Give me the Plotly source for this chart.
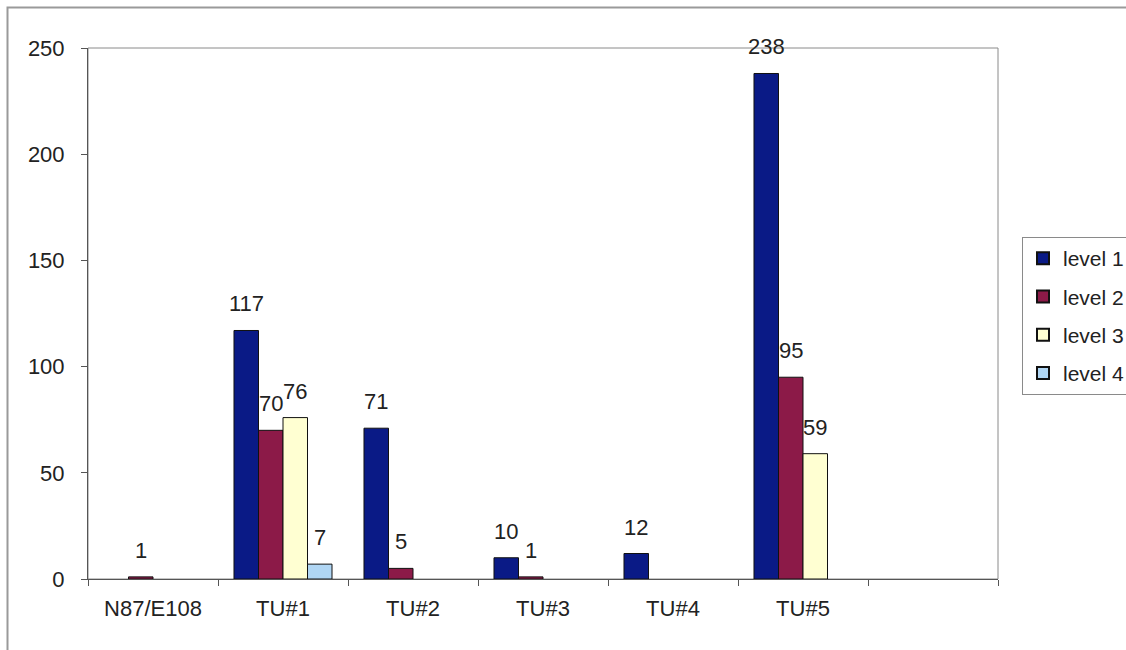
import plotly.graph_objects as go

categories = ["N87/E108", "TU#1", "TU#2", "TU#3", "TU#4", "TU#5", "\u00a0"]
level1 = [None, 117, 71, 10, 12, 238, None]
level2 = [1, 70, 5, 1, None, 95, None]
level3 = [None, 76, None, None, None, 59, None]
level4 = [None, 7, None, None, None, None, None]
series_names = ["level 1", "level 2", "level 3", "level 4"]
series_values = [level1, level2, level3, level4]
colors = ["#0A1A86", "#8C1A48", "#FFFFD2", "#B0D6F4"]
y_ticks = [0, 50, 100, 150, 200, 250]

FONT = "Liberation Sans, Arial, sans-serif"
FS = 22

# plot-area geometry (px)
L, R, T, B = 88, 998, 48, 579
W, H = 1126, 650
pw, ph = R - L, B - T
BARGAP = 0.246
n_cat = len(categories)
cat_px = pw / n_cat
bar_px = cat_px * (1 - BARGAP) / len(series_names)

def px_x(p):
    return (p - L) / pw

def px_y(p):
    return (B - p) / ph

fig = go.Figure()
annotations = []
for i, (name, vals, col) in enumerate(zip(series_names, series_values, colors)):
    fig.add_trace(go.Bar(
        x=categories, y=vals, name=name,
        marker=dict(color=col, line=dict(color="#111111", width=1)),
        legendgroup=name,
    ))
    shift = (i - (len(series_names) - 1) / 2) * bar_px
    for c, v in zip(categories, vals):
        if v is None:
            continue
        annotations.append(dict(
            x=c, y=v, xref="x", yref="y", text=str(v), showarrow=False,
            xanchor="center", yanchor="bottom", xshift=shift, yshift=12,
            font=dict(family=FONT, size=FS, color="#222222"),
        ))

fig.update_layout(
    width=W, height=H,
    margin=dict(l=L, r=W - R, t=T, b=H - B, autoexpand=False),
    paper_bgcolor="white", plot_bgcolor="white",
    barmode="group", bargap=BARGAP, bargroupgap=0,
    font=dict(family=FONT, size=FS, color="#222222"),
    showlegend=True,
    legend=dict(
        x=px_x(1022), y=px_y(237), xanchor="left", yanchor="top",
        bordercolor="#8a8a8a", borderwidth=1, bgcolor="white",
        font=dict(family=FONT, size=21, color="#222222"),
        traceorder="grouped", tracegroupgap=8,
        itemsizing="constant",
    ),
    xaxis=dict(
        type="category", categoryorder="array", categoryarray=categories,
        tickson="boundaries", ticks="outside", ticklen=6, tickcolor="#555555",
        showline=True, linecolor="#555555", linewidth=1,
        showgrid=False, zeroline=False,
        tickfont=dict(family=FONT, size=FS, color="#222222"),
        ticklabelstandoff=10,
        range=[-0.5, 6.5],
    ),
    yaxis=dict(
        range=[0, 250], tickvals=y_ticks, ticktext=[str(v) for v in y_ticks],
        ticks="outside", ticklen=6, tickcolor="#555555",
        showline=True, linecolor="#555555", linewidth=1,
        showgrid=False, zeroline=False,
        tickfont=dict(family=FONT, size=FS, color="#222222"),
        ticklabelstandoff=12,
    ),
    annotations=annotations,
    shapes=[
        dict(type="rect", xref="paper", yref="paper", x0=0, y0=0, x1=1, y1=1,
             line=dict(color="#8a8a8a", width=1), layer="below"),
        dict(type="path", xref="paper", yref="paper",
             path=f"M {px_x(7.5)} {px_y(700)} L {px_x(7.5)} {px_y(7.5)} L {px_x(1140)} {px_y(7.5)}",
             line=dict(color="#9a9a9a", width=2)),
    ],
)

fig.write_html("out.html")
